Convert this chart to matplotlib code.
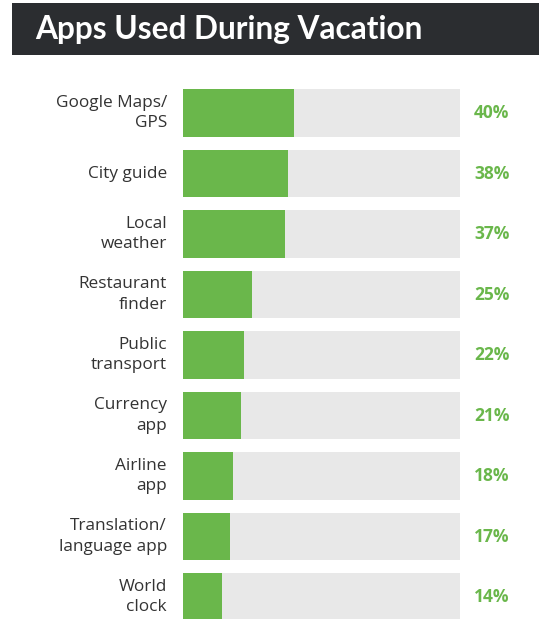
import matplotlib
matplotlib.use("Agg")
import matplotlib.pyplot as plt
from matplotlib.patches import Rectangle

apps = ["Google Maps/\nGPS", "City guide", "Local\nweather", "Restaurant\nfinder",
        "Public\ntransport", "Currency\napp", "Airline\napp", "Translation/\nlanguage app",
        "World\nclock"]
shares = [40, 38, 37, 25, 22, 21, 18, 17, 14]

W, H = 539, 619
fig = plt.figure(figsize=(W / 100, H / 100), dpi=100)
fig.patch.set_facecolor("white")

# title bar
fig.patches.append(Rectangle((12 / W, 1 - 55 / H), 1 - 12 / W, 52 / H,
                             transform=fig.transFigure, facecolor="#2b2d30",
                             edgecolor="none", zorder=0))
fig.text(35 / W, 1 - 30 / H, "Apps Used During Vacation", color="white",
         fontsize=22.8, fontweight="bold", family="Lato", va="center", ha="left")

# bars area
top = 1 - 82.75 / H
height = 9 * 60.5 / H
ax = fig.add_axes([183 / W, top - height, 277 / W, height])
ax.set_xlim(0, 100)
ax.set_ylim(len(apps) - 0.5, -0.5)
ax.axis("off")

pos = range(len(apps))
ax.barh(pos, [100] * len(apps), height=0.78, color="#e8e8e8", edgecolor="none")
ax.barh(pos, shares, height=0.78, color="#6ab74b", edgecolor="none")

for i, (name, v) in enumerate(zip(apps, shares)):
    ax.text(-5.8, i, name, ha="right", va="center", fontsize=12.4,
            family="Open Sans", color="#333333", linespacing=1.38, clip_on=False)
    ax.text(111.5, i, f"{v}%", ha="center", va="center", fontsize=12.5,
            fontweight="bold", family="Open Sans", color="#6ab74b", clip_on=False)

fig.savefig("out.png", dpi=100)
